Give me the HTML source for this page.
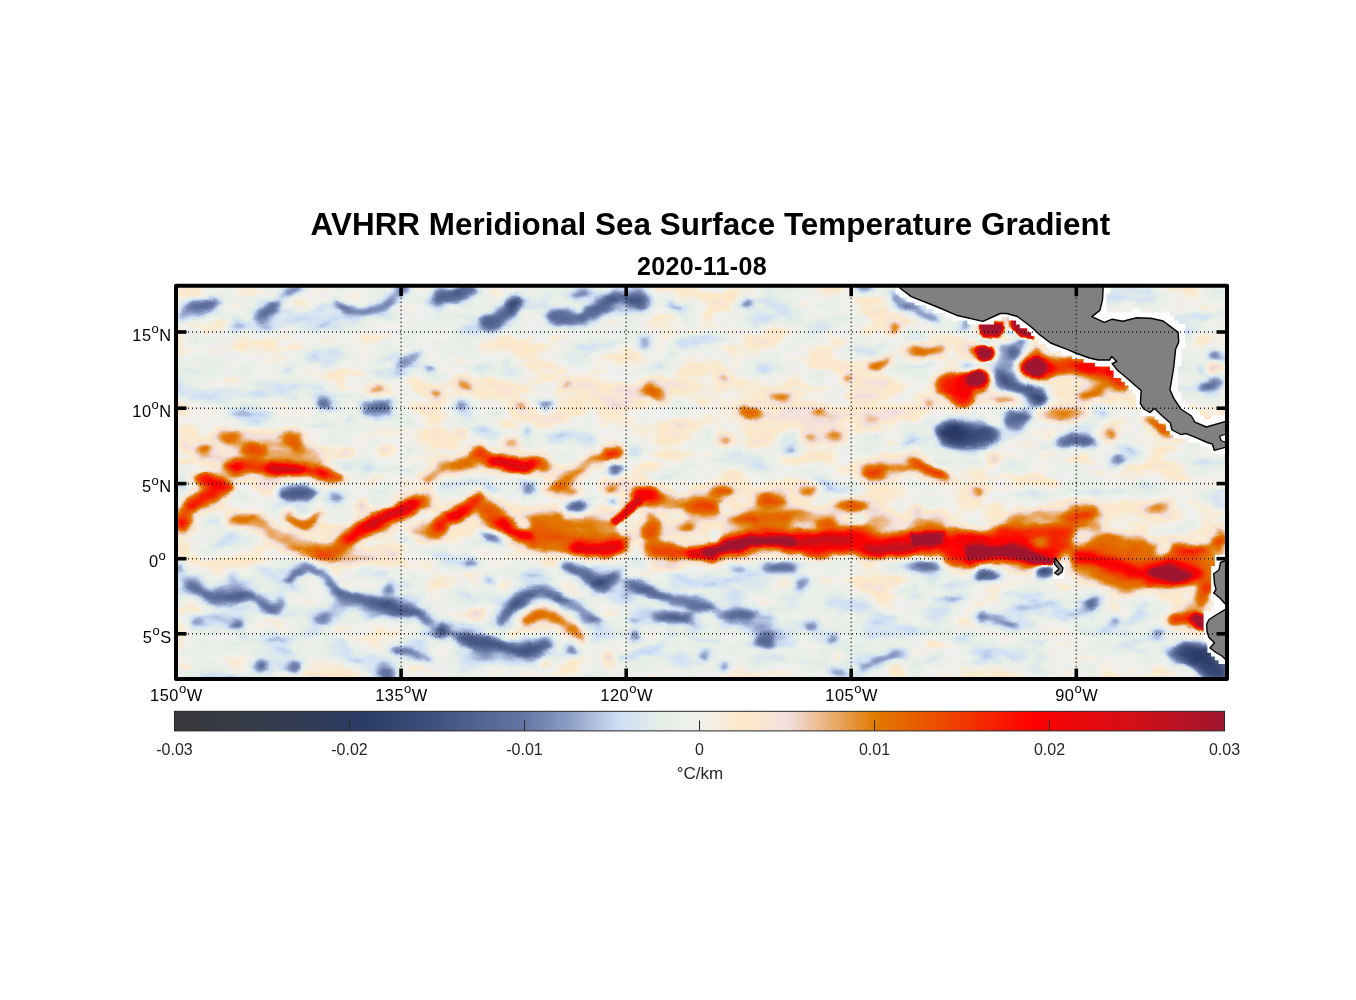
<!DOCTYPE html>
<html><head><meta charset="utf-8"><title>AVHRR Meridional Sea Surface Temperature Gradient</title>
<style>html,body{margin:0;padding:0;background:#fff}body{width:1356px;height:1000px;overflow:hidden;font-family:"Liberation Sans",sans-serif}svg{display:block}text{font-family:"Liberation Sans",sans-serif}</style>
</head><body>
<svg width="1356" height="1000" viewBox="0 0 1356 1000">
<defs>
<filter id="cm" filterUnits="userSpaceOnUse" x="160" y="270" width="1090" height="430" color-interpolation-filters="sRGB"><feTurbulence type="fractalNoise" baseFrequency="0.045 0.06" numOctaves="2" seed="3" result="dn"/><feDisplacementMap in="SourceGraphic" in2="dn" scale="7" xChannelSelector="R" yChannelSelector="G" result="dd"/><feComponentTransfer in="dd">
<feFuncR type="table" tableValues="0.227 0.225 0.223 0.220 0.218 0.216 0.213 0.211 0.209 0.206 0.204 0.201 0.197 0.194 0.191 0.188 0.184 0.181 0.178 0.175 0.171 0.168 0.165 0.176 0.188 0.200 0.212 0.224 0.235 0.247 0.259 0.272 0.285 0.299 0.312 0.325 0.339 0.352 0.365 0.379 0.392 0.424 0.455 0.486 0.518 0.549 0.593 0.637 0.680 0.724 0.768 0.812 0.830 0.848 0.866 0.884 0.902 0.912 0.922 0.931 0.941 0.951 0.962 0.972 0.982 0.992 0.984 0.975 0.966 0.958 0.949 0.943 0.937 0.931 0.925 0.918 0.910 0.902 0.894 0.886 0.878 0.885 0.891 0.897 0.904 0.910 0.916 0.922 0.929 0.935 0.941 0.949 0.956 0.963 0.971 0.978 0.985 0.993 1.000 0.985 0.969 0.954 0.939 0.923 0.908 0.892 0.877 0.862 0.846 0.831 0.816 0.797 0.778 0.759 0.740 0.722 0.703 0.684 0.665 0.646 0.627"/>
<feFuncG type="table" tableValues="0.227 0.228 0.228 0.229 0.229 0.229 0.230 0.230 0.231 0.231 0.231 0.231 0.231 0.231 0.231 0.231 0.231 0.231 0.231 0.231 0.231 0.231 0.231 0.243 0.254 0.265 0.276 0.288 0.299 0.310 0.322 0.336 0.350 0.364 0.378 0.392 0.406 0.420 0.435 0.449 0.463 0.493 0.524 0.555 0.585 0.616 0.659 0.703 0.747 0.791 0.835 0.878 0.890 0.902 0.914 0.925 0.937 0.938 0.939 0.940 0.941 0.936 0.930 0.925 0.919 0.914 0.907 0.900 0.893 0.885 0.878 0.840 0.802 0.764 0.725 0.685 0.644 0.604 0.563 0.523 0.482 0.457 0.431 0.406 0.380 0.355 0.329 0.304 0.278 0.253 0.227 0.199 0.171 0.142 0.114 0.085 0.057 0.028 0.000 0.005 0.010 0.016 0.021 0.026 0.031 0.037 0.042 0.047 0.052 0.058 0.063 0.065 0.067 0.069 0.071 0.073 0.075 0.076 0.078 0.080 0.082"/>
<feFuncB type="table" tableValues="0.235 0.241 0.246 0.252 0.257 0.263 0.268 0.274 0.279 0.285 0.290 0.299 0.308 0.318 0.327 0.336 0.345 0.354 0.363 0.373 0.382 0.391 0.400 0.412 0.424 0.435 0.447 0.459 0.471 0.482 0.494 0.508 0.522 0.536 0.551 0.565 0.579 0.593 0.607 0.621 0.635 0.663 0.690 0.718 0.745 0.773 0.805 0.837 0.869 0.901 0.933 0.965 0.952 0.940 0.927 0.915 0.902 0.910 0.918 0.925 0.933 0.904 0.874 0.844 0.814 0.784 0.803 0.822 0.841 0.860 0.878 0.794 0.710 0.625 0.541 0.451 0.361 0.271 0.180 0.090 0.000 0.000 0.000 0.000 0.000 0.000 0.000 0.000 0.000 0.000 0.000 0.000 0.000 0.000 0.000 0.000 0.000 0.000 0.000 0.008 0.016 0.024 0.031 0.039 0.047 0.055 0.063 0.071 0.078 0.086 0.094 0.104 0.113 0.122 0.132 0.141 0.151 0.160 0.169 0.179 0.188"/>
</feComponentTransfer></filter>
<filter id="bx" filterUnits="userSpaceOnUse" x="100" y="220" width="1200" height="520" color-interpolation-filters="sRGB"><feGaussianBlur stdDeviation="9"/></filter>
<filter id="bh" filterUnits="userSpaceOnUse" x="100" y="220" width="1200" height="520" color-interpolation-filters="sRGB"><feGaussianBlur stdDeviation="7"/></filter>
<filter id="bm" filterUnits="userSpaceOnUse" x="100" y="220" width="1200" height="520" color-interpolation-filters="sRGB"><feGaussianBlur stdDeviation="3.6"/></filter>
<filter id="bs" filterUnits="userSpaceOnUse" x="100" y="220" width="1200" height="520" color-interpolation-filters="sRGB"><feGaussianBlur stdDeviation="1.7"/></filter>
<filter id="nz" filterUnits="userSpaceOnUse" x="160" y="270" width="1090" height="430" color-interpolation-filters="sRGB"><feTurbulence type="fractalNoise" baseFrequency="0.02 0.042" numOctaves="3" seed="7" result="t"/><feColorMatrix in="t" type="matrix" values="0.25 0 0 0 0.368  0.25 0 0 0 0.368  0.25 0 0 0 0.368  0 0 0 0 1"/></filter>
<clipPath id="clip"><rect x="176" y="285.7" width="1051" height="393.3"/></clipPath>
<linearGradient id="cb" x1="0" x2="1" y1="0" y2="0">
<stop offset="0.0000" stop-color="#3a3a3c"/>
<stop offset="0.0083" stop-color="#393a3d"/>
<stop offset="0.0167" stop-color="#393a3f"/>
<stop offset="0.0250" stop-color="#383a40"/>
<stop offset="0.0333" stop-color="#383a42"/>
<stop offset="0.0417" stop-color="#373a43"/>
<stop offset="0.0500" stop-color="#363b44"/>
<stop offset="0.0583" stop-color="#363b46"/>
<stop offset="0.0667" stop-color="#353b47"/>
<stop offset="0.0750" stop-color="#353b49"/>
<stop offset="0.0833" stop-color="#343b4a"/>
<stop offset="0.0917" stop-color="#333b4c"/>
<stop offset="0.1000" stop-color="#323b4f"/>
<stop offset="0.1083" stop-color="#323b51"/>
<stop offset="0.1167" stop-color="#313b53"/>
<stop offset="0.1250" stop-color="#303b56"/>
<stop offset="0.1333" stop-color="#2f3b58"/>
<stop offset="0.1417" stop-color="#2e3b5a"/>
<stop offset="0.1500" stop-color="#2d3b5d"/>
<stop offset="0.1583" stop-color="#2c3b5f"/>
<stop offset="0.1667" stop-color="#2c3b61"/>
<stop offset="0.1750" stop-color="#2b3b64"/>
<stop offset="0.1833" stop-color="#2a3b66"/>
<stop offset="0.1917" stop-color="#2d3e69"/>
<stop offset="0.2000" stop-color="#30416c"/>
<stop offset="0.2083" stop-color="#33446f"/>
<stop offset="0.2167" stop-color="#364772"/>
<stop offset="0.2250" stop-color="#394975"/>
<stop offset="0.2333" stop-color="#3c4c78"/>
<stop offset="0.2417" stop-color="#3f4f7b"/>
<stop offset="0.2500" stop-color="#42527e"/>
<stop offset="0.2583" stop-color="#455682"/>
<stop offset="0.2667" stop-color="#495985"/>
<stop offset="0.2750" stop-color="#4c5d89"/>
<stop offset="0.2833" stop-color="#50608c"/>
<stop offset="0.2917" stop-color="#536490"/>
<stop offset="0.3000" stop-color="#566894"/>
<stop offset="0.3083" stop-color="#5a6b97"/>
<stop offset="0.3167" stop-color="#5d6f9b"/>
<stop offset="0.3250" stop-color="#61729e"/>
<stop offset="0.3333" stop-color="#6476a2"/>
<stop offset="0.3417" stop-color="#6c7ea9"/>
<stop offset="0.3500" stop-color="#7486b0"/>
<stop offset="0.3583" stop-color="#7c8db7"/>
<stop offset="0.3667" stop-color="#8495be"/>
<stop offset="0.3750" stop-color="#8c9dc5"/>
<stop offset="0.3833" stop-color="#97a8cd"/>
<stop offset="0.3917" stop-color="#a2b3d5"/>
<stop offset="0.4000" stop-color="#aebfde"/>
<stop offset="0.4083" stop-color="#b9cae6"/>
<stop offset="0.4167" stop-color="#c4d5ee"/>
<stop offset="0.4250" stop-color="#cfe0f6"/>
<stop offset="0.4333" stop-color="#d4e3f3"/>
<stop offset="0.4417" stop-color="#d8e6f0"/>
<stop offset="0.4500" stop-color="#dde9ec"/>
<stop offset="0.4583" stop-color="#e1ece9"/>
<stop offset="0.4667" stop-color="#e6efe6"/>
<stop offset="0.4750" stop-color="#e8efe8"/>
<stop offset="0.4833" stop-color="#ebf0ea"/>
<stop offset="0.4917" stop-color="#eef0ec"/>
<stop offset="0.5000" stop-color="#f0f0ee"/>
<stop offset="0.5083" stop-color="#f3efe6"/>
<stop offset="0.5167" stop-color="#f5eddf"/>
<stop offset="0.5250" stop-color="#f8ecd7"/>
<stop offset="0.5333" stop-color="#faead0"/>
<stop offset="0.5417" stop-color="#fde9c8"/>
<stop offset="0.5500" stop-color="#fbe7cd"/>
<stop offset="0.5583" stop-color="#f9e5d2"/>
<stop offset="0.5667" stop-color="#f6e4d6"/>
<stop offset="0.5750" stop-color="#f4e2db"/>
<stop offset="0.5833" stop-color="#f2e0e0"/>
<stop offset="0.5917" stop-color="#f0d6cb"/>
<stop offset="0.6000" stop-color="#efccb5"/>
<stop offset="0.6083" stop-color="#eec3a0"/>
<stop offset="0.6167" stop-color="#ecb98a"/>
<stop offset="0.6250" stop-color="#eaaf73"/>
<stop offset="0.6333" stop-color="#e8a45c"/>
<stop offset="0.6417" stop-color="#e69a45"/>
<stop offset="0.6500" stop-color="#e4902e"/>
<stop offset="0.6583" stop-color="#e28517"/>
<stop offset="0.6667" stop-color="#e07b00"/>
<stop offset="0.6750" stop-color="#e27500"/>
<stop offset="0.6833" stop-color="#e36e00"/>
<stop offset="0.6917" stop-color="#e56800"/>
<stop offset="0.7000" stop-color="#e66100"/>
<stop offset="0.7083" stop-color="#e85b00"/>
<stop offset="0.7167" stop-color="#ea5400"/>
<stop offset="0.7250" stop-color="#eb4e00"/>
<stop offset="0.7333" stop-color="#ed4700"/>
<stop offset="0.7417" stop-color="#ee4000"/>
<stop offset="0.7500" stop-color="#f03a00"/>
<stop offset="0.7583" stop-color="#f23300"/>
<stop offset="0.7667" stop-color="#f42b00"/>
<stop offset="0.7750" stop-color="#f62400"/>
<stop offset="0.7833" stop-color="#f81d00"/>
<stop offset="0.7917" stop-color="#f91600"/>
<stop offset="0.8000" stop-color="#fb0e00"/>
<stop offset="0.8083" stop-color="#fd0700"/>
<stop offset="0.8167" stop-color="#ff0000"/>
<stop offset="0.8250" stop-color="#fb0102"/>
<stop offset="0.8333" stop-color="#f70304"/>
<stop offset="0.8417" stop-color="#f30406"/>
<stop offset="0.8500" stop-color="#ef0508"/>
<stop offset="0.8583" stop-color="#eb070a"/>
<stop offset="0.8667" stop-color="#e7080c"/>
<stop offset="0.8750" stop-color="#e4090e"/>
<stop offset="0.8833" stop-color="#e00b10"/>
<stop offset="0.8917" stop-color="#dc0c12"/>
<stop offset="0.9000" stop-color="#d80d14"/>
<stop offset="0.9083" stop-color="#d40f16"/>
<stop offset="0.9167" stop-color="#d01018"/>
<stop offset="0.9250" stop-color="#cb101a"/>
<stop offset="0.9333" stop-color="#c6111d"/>
<stop offset="0.9417" stop-color="#c2111f"/>
<stop offset="0.9500" stop-color="#bd1222"/>
<stop offset="0.9583" stop-color="#b81224"/>
<stop offset="0.9667" stop-color="#b31326"/>
<stop offset="0.9750" stop-color="#ae1429"/>
<stop offset="0.9833" stop-color="#aa142b"/>
<stop offset="0.9917" stop-color="#a5142e"/>
<stop offset="1.0000" stop-color="#a01530"/>
</linearGradient>
</defs>
<rect width="1356" height="1000" fill="#fff"/>
<g clip-path="url(#clip)">
<g filter="url(#cm)">
<rect x="160" y="270" width="1090" height="430" fill="#808080"/>
<rect x="160" y="270" width="1090" height="430" filter="url(#nz)"/>
<g filter="url(#bx)">
<ellipse cx="700" cy="395" rx="270" ry="40" fill="#fff" opacity="0.06"/>
<ellipse cx="560" cy="625" rx="400" ry="45" fill="#000" opacity="0.04"/>
<ellipse cx="300" cy="365" rx="150" ry="34" fill="#000" opacity="0.02"/>
<ellipse cx="1100" cy="625" rx="110" ry="35" fill="#000" opacity="0.03"/>
<ellipse cx="1000" cy="470" rx="200" ry="18" fill="#fff" opacity="0.05"/>
<ellipse cx="800" cy="508" rx="120" ry="14" fill="#fff" opacity="0.07"/>
<ellipse cx="1120" cy="520" rx="70" ry="20" fill="#fff" opacity="0.05"/>
<ellipse cx="560" cy="525" rx="80" ry="14" fill="#fff" opacity="0.05"/>
<ellipse cx="270" cy="452" rx="70" ry="16" fill="#fff" opacity="0.08"/>
</g>
<g filter="url(#bh)" opacity="0.6"><use href="#gmi"/><use href="#gsi"/></g>
<g filter="url(#bm)"><g id="gmi">
<ellipse cx="197" cy="310.5" rx="27" ry="7.5" fill="#000" opacity="0.27" transform="rotate(-24 197 310.5)"/>
<ellipse cx="268" cy="311" rx="18" ry="5.5" fill="#000" opacity="0.32" transform="rotate(-34 268 311)"/>
<ellipse cx="292" cy="291" rx="14" ry="5" fill="#000" opacity="0.31" transform="rotate(-15 292 291)"/>
<ellipse cx="236" cy="324" rx="7" ry="4" fill="#000" opacity="0.23"/>
<polyline points="336.0,303.0 350.0,310.0 364.0,312.0 382.0,305.0 392.0,299.0" fill="none" stroke="#000" stroke-width="4.5" stroke-linecap="round" stroke-linejoin="round" opacity="0.50"/>
<ellipse cx="403" cy="291" rx="9" ry="5.5" fill="#000" opacity="0.34" transform="rotate(-15 403 291)"/>
<polyline points="400.0,363.0 420.0,353.0" fill="none" stroke="#000" stroke-width="3.5" stroke-linecap="round" stroke-linejoin="round" opacity="0.53"/>
<ellipse cx="430" cy="370" rx="5" ry="3" fill="#000" opacity="0.47"/>
<polygon points="361.0,402.0 392.0,402.0 392.0,416.0 361.0,416.0" fill="#000" opacity="0.29"/>
<ellipse cx="324" cy="404" rx="7" ry="3.5" fill="#000" opacity="0.43"/>
<ellipse cx="250" cy="414" rx="26" ry="4" fill="#000" opacity="0.24" transform="rotate(8 250 414)"/>
<ellipse cx="350" cy="419" rx="6" ry="3" fill="#000" opacity="0.36"/>
<ellipse cx="290" cy="370" rx="9" ry="5" fill="#000" opacity="0.10"/>
<ellipse cx="332" cy="354" rx="7" ry="4" fill="#000" opacity="0.10"/>
<ellipse cx="438" cy="296" rx="6" ry="8" fill="#000" opacity="0.33"/>
<ellipse cx="196" cy="292" rx="14" ry="5" fill="#fff" opacity="0.08"/>
<ellipse cx="236" cy="360" rx="16" ry="6" fill="#fff" opacity="0.06"/>
<polyline points="328.0,373.0 350.0,374.0 372.0,375.0" fill="none" stroke="#fff" stroke-width="6" stroke-linecap="round" stroke-linejoin="round" opacity="0.12"/>
<ellipse cx="360" cy="373" rx="7" ry="3" fill="#fff" opacity="0.24"/>
<ellipse cx="377" cy="389" rx="12" ry="3.4" fill="#fff" opacity="0.40"/>
<ellipse cx="436" cy="394" rx="5" ry="4" fill="#fff" opacity="0.42"/>
<ellipse cx="384" cy="450" rx="8" ry="3" fill="#fff" opacity="0.34"/>
<ellipse cx="346" cy="454" rx="9" ry="4" fill="#fff" opacity="0.21"/>
<polygon points="182.0,446.0 226.0,430.0 262.0,432.0 300.0,430.0 312.0,444.0 346.0,482.0 300.0,476.0 230.0,474.0 200.0,456.0" fill="#fff" opacity="0.09"/>
<ellipse cx="184" cy="446" rx="8" ry="3.5" fill="#fff" opacity="0.30"/>
<ellipse cx="204" cy="449" rx="8" ry="5" fill="#fff" opacity="0.29"/>
<ellipse cx="228" cy="436" rx="12" ry="6" fill="#fff" opacity="0.22"/>
<ellipse cx="254" cy="450" rx="14" ry="7" fill="#fff" opacity="0.25"/>
<ellipse cx="292" cy="438" rx="12" ry="7" fill="#fff" opacity="0.23"/>
<ellipse cx="300" cy="448" rx="8" ry="5" fill="#fff" opacity="0.24"/>
<polyline points="228.0,468.0 250.0,466.0 270.0,468.0 290.0,470.0 318.0,472.0 340.0,480.0" fill="none" stroke="#fff" stroke-width="9" stroke-linecap="round" stroke-linejoin="round" opacity="0.46"/>
<polyline points="272.0,469.0 286.0,470.0 300.0,470.0" fill="none" stroke="#fff" stroke-width="7" stroke-linecap="round" stroke-linejoin="round" opacity="0.97"/>
<ellipse cx="236" cy="468" rx="8" ry="5" fill="#fff" opacity="0.49"/>
<ellipse cx="322" cy="473" rx="8" ry="4" fill="#fff" opacity="0.50"/>
<ellipse cx="208" cy="481" rx="16" ry="6" fill="#fff" opacity="0.33"/>
<ellipse cx="430" cy="476" rx="10" ry="7" fill="#fff" opacity="0.27"/>
<ellipse cx="460" cy="294" rx="21" ry="6" fill="#000" opacity="0.32" transform="rotate(-14 460 294)"/>
<ellipse cx="502" cy="315" rx="25" ry="8.5" fill="#000" opacity="0.31" transform="rotate(-30 502 315)"/>
<ellipse cx="515" cy="303" rx="8" ry="6" fill="#000" opacity="0.26"/>
<ellipse cx="566" cy="318" rx="21" ry="9" fill="#000" opacity="0.31" transform="rotate(5 566 318)"/>
<ellipse cx="598" cy="308" rx="19" ry="9" fill="#000" opacity="0.31" transform="rotate(-35 598 308)"/>
<ellipse cx="617" cy="296" rx="8" ry="5" fill="#000" opacity="0.32" transform="rotate(-30 617 296)"/>
<ellipse cx="582" cy="295" rx="12" ry="4" fill="#000" opacity="0.32" transform="rotate(-15 582 295)"/>
<ellipse cx="636" cy="301" rx="14" ry="8.5" fill="#000" opacity="0.30" transform="rotate(28 636 301)"/>
<polyline points="667.0,302.0 683.0,311.0" fill="none" stroke="#000" stroke-width="3.5" stroke-linecap="round" stroke-linejoin="round" opacity="0.33"/>
<ellipse cx="645" cy="345" rx="7" ry="4" fill="#000" opacity="0.32"/>
<ellipse cx="547" cy="405" rx="10" ry="3.5" fill="#000" opacity="0.41"/>
<ellipse cx="459" cy="404" rx="7" ry="4" fill="#000" opacity="0.32"/>
<ellipse cx="527" cy="430" rx="4" ry="3" fill="#000" opacity="0.50"/>
<ellipse cx="615" cy="469" rx="9" ry="5.5" fill="#000" opacity="0.37" transform="rotate(-20 615 469)"/>
<ellipse cx="497" cy="414" rx="10" ry="4" fill="#000" opacity="0.10"/>
<ellipse cx="591" cy="437" rx="10" ry="3" fill="#000" opacity="0.13"/>
<ellipse cx="467" cy="318" rx="8" ry="4" fill="#000" opacity="0.08"/>
<ellipse cx="477" cy="372" rx="10" ry="4" fill="#000" opacity="0.08"/>
<ellipse cx="465" cy="385" rx="9" ry="4" fill="#fff" opacity="0.35" transform="rotate(25 465 385)"/>
<ellipse cx="565" cy="385" rx="6" ry="3.5" fill="#fff" opacity="0.32"/>
<ellipse cx="521" cy="404" rx="6" ry="3" fill="#fff" opacity="0.40"/>
<polyline points="645.0,386.0 654.0,393.0 664.0,400.0" fill="none" stroke="#fff" stroke-width="6" stroke-linecap="round" stroke-linejoin="round" opacity="0.41"/>
<ellipse cx="461" cy="434" rx="7" ry="4" fill="#fff" opacity="0.28"/>
<ellipse cx="511" cy="442" rx="11" ry="4" fill="#fff" opacity="0.40"/>
<polyline points="441.0,466.0 455.0,466.0 470.0,462.0 480.0,452.0" fill="none" stroke="#fff" stroke-width="12" stroke-linecap="round" stroke-linejoin="round" opacity="0.29"/>
<ellipse cx="478" cy="452" rx="8" ry="6" fill="#fff" opacity="0.27"/>
<polyline points="487.0,460.0 500.0,462.0 512.0,466.0 528.0,466.0 538.0,462.0" fill="none" stroke="#fff" stroke-width="9" stroke-linecap="round" stroke-linejoin="round" opacity="0.50"/>
<polyline points="491.0,461.0 505.0,464.0 520.0,466.0 530.0,465.0" fill="none" stroke="#fff" stroke-width="6" stroke-linecap="round" stroke-linejoin="round" opacity="1.00"/>
<ellipse cx="545" cy="466" rx="8" ry="9" fill="#fff" opacity="0.25"/>
<ellipse cx="615" cy="452" rx="10" ry="5.5" fill="#fff" opacity="0.56"/>
<polyline points="606.0,455.0 592.0,462.0 582.0,470.0 570.0,478.0 560.0,484.0" fill="none" stroke="#fff" stroke-width="11" stroke-linecap="round" stroke-linejoin="round" opacity="0.27"/>
<ellipse cx="590" cy="395" rx="60" ry="14" fill="#fff" opacity="0.04"/>
<ellipse cx="746" cy="304" rx="6" ry="3.5" fill="#000" opacity="0.41"/>
<ellipse cx="726" cy="360" rx="9" ry="4" fill="#000" opacity="0.10"/>
<ellipse cx="790" cy="451" rx="5" ry="2" fill="#000" opacity="0.50"/>
<polyline points="892.0,294.0 903.0,303.0 918.0,312.0 938.0,320.0" fill="none" stroke="#000" stroke-width="3.5" stroke-linecap="round" stroke-linejoin="round" opacity="0.56"/>
<ellipse cx="966" cy="326" rx="6" ry="3" fill="#000" opacity="0.45"/>
<ellipse cx="864" cy="288" rx="8" ry="3" fill="#000" opacity="0.41"/>
<ellipse cx="928" cy="422" rx="8" ry="4" fill="#000" opacity="0.12"/>
<ellipse cx="896" cy="329" rx="8" ry="3.5" fill="#fff" opacity="0.45" transform="rotate(-20 896 329)"/>
<polyline points="870.0,366.0 880.0,363.0 890.0,360.0" fill="none" stroke="#fff" stroke-width="6" stroke-linecap="round" stroke-linejoin="round" opacity="0.51"/>
<polyline points="912.0,349.0 928.0,352.0 942.0,351.0" fill="none" stroke="#fff" stroke-width="9" stroke-linecap="round" stroke-linejoin="round" opacity="0.35"/>
<ellipse cx="848" cy="379" rx="4" ry="4" fill="#fff" opacity="0.43"/>
<ellipse cx="724" cy="377" rx="8" ry="3" fill="#fff" opacity="0.34"/>
<ellipse cx="780" cy="396" rx="13" ry="3.5" fill="#fff" opacity="0.36"/>
<polyline points="742.0,409.0 752.0,413.0 760.0,416.0" fill="none" stroke="#fff" stroke-width="6" stroke-linecap="round" stroke-linejoin="round" opacity="0.44"/>
<ellipse cx="820" cy="411" rx="8" ry="3" fill="#fff" opacity="0.34"/>
<ellipse cx="724" cy="439" rx="9" ry="4.5" fill="#fff" opacity="0.34"/>
<ellipse cx="810" cy="438" rx="8" ry="5.5" fill="#fff" opacity="0.30"/>
<ellipse cx="834" cy="438" rx="11" ry="3" fill="#fff" opacity="0.44"/>
<ellipse cx="928" cy="404" rx="6" ry="3" fill="#fff" opacity="0.36"/>
<ellipse cx="872" cy="422" rx="10" ry="4" fill="#fff" opacity="0.19"/>
<ellipse cx="892" cy="442" rx="9" ry="3" fill="#fff" opacity="0.26"/>
<ellipse cx="872" cy="476" rx="13" ry="5" fill="#fff" opacity="0.29"/>
<polyline points="912.0,458.0 922.0,464.0 934.0,472.0 946.0,478.0" fill="none" stroke="#fff" stroke-width="7" stroke-linecap="round" stroke-linejoin="round" opacity="0.45"/>
<ellipse cx="790" cy="420" rx="80" ry="20" fill="#fff" opacity="0.03"/>
<ellipse cx="984" cy="353" rx="12" ry="11" fill="#fff" opacity="0.33"/>
<ellipse cx="976" cy="380" rx="18" ry="11" fill="#fff" opacity="0.32"/>
<ellipse cx="1035" cy="368" rx="18" ry="14" fill="#fff" opacity="0.32"/>
<polygon points="932.0,380.0 950.0,374.0 966.0,372.0 972.0,388.0 972.0,398.0 968.0,408.0 958.0,408.0 942.0,394.0" fill="#fff" opacity="0.43"/>
<polyline points="1048.0,366.0 1070.0,365.0 1092.0,367.0 1110.0,370.0" fill="none" stroke="#fff" stroke-width="12" stroke-linecap="round" stroke-linejoin="round" opacity="0.29"/>
<polygon points="1047.0,360.0 1075.0,358.0 1110.0,364.0 1130.0,386.0 1120.0,394.0 1095.0,384.0 1070.0,376.0 1047.0,378.0" fill="#fff" opacity="0.22"/>
<ellipse cx="1088" cy="366" rx="13" ry="5" fill="#fff" opacity="0.31"/>
<polyline points="1110.0,372.0 1118.0,380.0 1126.0,388.0" fill="none" stroke="#fff" stroke-width="8" stroke-linecap="round" stroke-linejoin="round" opacity="0.35"/>
<ellipse cx="1092" cy="393" rx="16" ry="6" fill="#fff" opacity="0.29" transform="rotate(-15 1092 393)"/>
<ellipse cx="1063" cy="414" rx="27" ry="8" fill="#fff" opacity="0.28"/>
<ellipse cx="1111" cy="433" rx="6" ry="5" fill="#fff" opacity="0.40"/>
<polyline points="1147.0,420.0 1158.0,425.0 1168.0,431.0" fill="none" stroke="#fff" stroke-width="8" stroke-linecap="round" stroke-linejoin="round" opacity="0.44"/>
<ellipse cx="1007" cy="341" rx="3.5" ry="3" fill="#fff" opacity="0.53"/>
<ellipse cx="1036" cy="349" rx="4" ry="3" fill="#fff" opacity="0.53"/>
<ellipse cx="993" cy="460" rx="7" ry="4" fill="#fff" opacity="0.28"/>
<polyline points="995.0,401.0 1008.0,400.0 1019.0,401.0" fill="none" stroke="#fff" stroke-width="4" stroke-linecap="round" stroke-linejoin="round" opacity="0.51"/>
<ellipse cx="1011" cy="331" rx="4" ry="5" fill="#000" opacity="0.57"/>
<ellipse cx="986" cy="341" rx="8" ry="2.5" fill="#000" opacity="0.58"/>
<ellipse cx="1023" cy="342" rx="7" ry="2.5" fill="#000" opacity="0.57"/>
<polyline points="962.0,366.0 976.0,366.0 990.0,364.0" fill="none" stroke="#000" stroke-width="3.5" stroke-linecap="round" stroke-linejoin="round" opacity="0.67"/>
<ellipse cx="1006" cy="362" rx="14" ry="20" fill="#000" opacity="0.17"/>
<ellipse cx="1016" cy="353" rx="6" ry="5" fill="#000" opacity="0.26"/>
<ellipse cx="999" cy="377" rx="6" ry="5" fill="#000" opacity="0.31"/>
<polyline points="1003.0,384.0 1018.0,388.0 1032.0,394.0 1042.0,400.0" fill="none" stroke="#000" stroke-width="10.5" stroke-linecap="round" stroke-linejoin="round" opacity="0.37"/>
<ellipse cx="1040" cy="399" rx="8" ry="7" fill="#000" opacity="0.25"/>
<ellipse cx="968" cy="436" rx="32" ry="13" fill="#000" opacity="0.39"/>
<ellipse cx="1018" cy="420" rx="14" ry="8" fill="#000" opacity="0.30"/>
<ellipse cx="950" cy="430" rx="14" ry="8" fill="#000" opacity="0.24"/>
<ellipse cx="1077" cy="442" rx="21" ry="6" fill="#000" opacity="0.37"/>
<ellipse cx="1117" cy="461" rx="7" ry="3" fill="#000" opacity="0.39" transform="rotate(-25 1117 461)"/>
<ellipse cx="1103" cy="414" rx="8" ry="4" fill="#000" opacity="0.12"/>
<ellipse cx="1215" cy="356" rx="8" ry="3.5" fill="#000" opacity="0.36"/>
<ellipse cx="1216" cy="367.5" rx="10" ry="2.2" fill="#fff" opacity="0.63"/>
<ellipse cx="1212" cy="385" rx="13" ry="5" fill="#000" opacity="0.31" transform="rotate(-10 1212 385)"/>
<ellipse cx="1186" cy="344" rx="6" ry="5" fill="#000" opacity="0.09"/>
<ellipse cx="1191" cy="393" rx="6" ry="5" fill="#000" opacity="0.09"/>
<polyline points="192.0,503.0 208.0,496.0 228.0,487.0" fill="none" stroke="#fff" stroke-width="13" stroke-linecap="round" stroke-linejoin="round" opacity="0.48"/>
<ellipse cx="210" cy="480" rx="14" ry="6" fill="#fff" opacity="0.32"/>
<ellipse cx="182" cy="523" rx="7" ry="9" fill="#fff" opacity="0.50"/>
<ellipse cx="186" cy="508" rx="8" ry="6" fill="#fff" opacity="0.33"/>
<polyline points="234.0,520.0 256.0,523.0 274.0,534.0 298.0,546.0 322.0,553.0 342.0,545.0 362.0,529.0 390.0,516.0 410.0,507.0 428.0,497.0" fill="none" stroke="#fff" stroke-width="15" stroke-linecap="round" stroke-linejoin="round" opacity="0.25"/>
<polyline points="350.0,538.0 370.0,524.0 392.0,513.0 416.0,504.0" fill="none" stroke="#fff" stroke-width="11" stroke-linecap="round" stroke-linejoin="round" opacity="0.41"/>
<polyline points="366.0,528.0 390.0,515.0 410.0,507.0" fill="none" stroke="#fff" stroke-width="5" stroke-linecap="round" stroke-linejoin="round" opacity="0.98"/>
<ellipse cx="345" cy="557" rx="34" ry="7" fill="#fff" opacity="0.23"/>
<polyline points="286.0,516.0 296.0,523.0 305.0,526.0 312.0,521.0 318.0,513.0" fill="none" stroke="#fff" stroke-width="6" stroke-linecap="round" stroke-linejoin="round" opacity="0.51"/>
<ellipse cx="362" cy="504" rx="4" ry="5" fill="#fff" opacity="0.32"/>
<ellipse cx="428" cy="530" rx="20" ry="10" fill="#fff" opacity="0.24"/>
<ellipse cx="456" cy="516" rx="8" ry="5" fill="#fff" opacity="0.53"/>
<ellipse cx="396" cy="636" rx="8" ry="3" fill="#fff" opacity="0.12"/>
<ellipse cx="390" cy="548" rx="16" ry="7" fill="#fff" opacity="0.09"/>
<ellipse cx="298" cy="493" rx="21" ry="8" fill="#000" opacity="0.36"/>
<ellipse cx="335" cy="498" rx="10" ry="4" fill="#000" opacity="0.33"/>
<polyline points="290.0,579.0 300.0,571.0 310.0,567.0 322.0,574.0 332.0,586.0 342.0,594.0 360.0,598.0 380.0,604.0 400.0,611.0 416.0,612.0 430.0,620.0" fill="none" stroke="#000" stroke-width="8.5" stroke-linecap="round" stroke-linejoin="round" opacity="0.32"/>
<ellipse cx="390" cy="590" rx="7" ry="5" fill="#000" opacity="0.33"/>
<polyline points="190.0,586.0 210.0,596.0 230.0,598.0 250.0,594.0 264.0,602.0 272.0,610.0 282.0,601.0" fill="none" stroke="#000" stroke-width="7.5" stroke-linecap="round" stroke-linejoin="round" opacity="0.35"/>
<ellipse cx="196" cy="622" rx="8" ry="3" fill="#000" opacity="0.41"/>
<ellipse cx="238" cy="624" rx="6" ry="4" fill="#000" opacity="0.41" transform="rotate(-30 238 624)"/>
<ellipse cx="322" cy="620" rx="12" ry="3" fill="#000" opacity="0.36"/>
<ellipse cx="180" cy="566" rx="4" ry="6" fill="#000" opacity="0.35"/>
<ellipse cx="232" cy="576" rx="6" ry="4" fill="#000" opacity="0.24"/>
<polyline points="392.0,649.0 412.0,655.0 432.0,660.0" fill="none" stroke="#000" stroke-width="3.5" stroke-linecap="round" stroke-linejoin="round" opacity="0.56"/>
<ellipse cx="260" cy="664" rx="7" ry="4" fill="#000" opacity="0.34" transform="rotate(35 260 664)"/>
<ellipse cx="294" cy="668" rx="7" ry="4" fill="#000" opacity="0.39" transform="rotate(35 294 668)"/>
<ellipse cx="386" cy="673" rx="10" ry="3" fill="#000" opacity="0.40"/>
<ellipse cx="440" cy="632" rx="5" ry="6" fill="#000" opacity="0.31"/>
<polyline points="438.0,524.0 453.0,516.0 465.0,509.0" fill="none" stroke="#fff" stroke-width="13" stroke-linecap="round" stroke-linejoin="round" opacity="0.43"/>
<polyline points="465.0,509.0 472.0,502.0 477.0,496.0" fill="none" stroke="#fff" stroke-width="9" stroke-linecap="round" stroke-linejoin="round" opacity="0.33"/>
<polyline points="477.0,500.0 497.0,518.0 517.0,534.0 545.0,542.0 581.0,546.0 611.0,548.0 623.0,543.0" fill="none" stroke="#fff" stroke-width="19" stroke-linecap="round" stroke-linejoin="round" opacity="0.30"/>
<polyline points="500.0,522.0 514.0,532.0 530.0,538.0" fill="none" stroke="#fff" stroke-width="7" stroke-linecap="round" stroke-linejoin="round" opacity="0.67"/>
<polyline points="575.0,548.0 600.0,549.0 620.0,546.0" fill="none" stroke="#fff" stroke-width="8" stroke-linecap="round" stroke-linejoin="round" opacity="0.71"/>
<polygon points="511.0,514.0 560.0,512.0 590.0,518.0 624.0,524.0 624.0,540.0 540.0,536.0" fill="#fff" opacity="0.24"/>
<ellipse cx="521" cy="524" rx="6" ry="4" fill="#000" opacity="0.30"/>
<ellipse cx="553" cy="488" rx="12" ry="5" fill="#fff" opacity="0.28"/>
<ellipse cx="571" cy="492" rx="8" ry="5" fill="#fff" opacity="0.30"/>
<ellipse cx="611" cy="487" rx="10" ry="4" fill="#fff" opacity="0.33"/>
<ellipse cx="646" cy="494" rx="15" ry="6" fill="#fff" opacity="0.52"/>
<polyline points="641.0,497.0 670.0,500.0 712.0,505.0" fill="none" stroke="#fff" stroke-width="14" stroke-linecap="round" stroke-linejoin="round" opacity="0.27"/>
<ellipse cx="651" cy="528" rx="10" ry="15" fill="#fff" opacity="0.27"/>
<polyline points="649.0,550.0 671.0,552.0 691.0,554.0 712.0,553.0" fill="none" stroke="#fff" stroke-width="13" stroke-linecap="round" stroke-linejoin="round" opacity="0.39"/>
<polyline points="690.0,555.0 712.0,555.0" fill="none" stroke="#fff" stroke-width="6" stroke-linecap="round" stroke-linejoin="round" opacity="1.00"/>
<ellipse cx="665" cy="566" rx="16" ry="6" fill="#fff" opacity="0.22"/>
<ellipse cx="687" cy="526" rx="8" ry="5" fill="#fff" opacity="0.30"/>
<ellipse cx="621" cy="529" rx="3.5" ry="3.5" fill="#000" opacity="0.58"/>
<polyline points="523.0,622.0 541.0,614.0 557.0,618.0 571.0,628.0 581.0,636.0" fill="none" stroke="#fff" stroke-width="12" stroke-linecap="round" stroke-linejoin="round" opacity="0.33"/>
<ellipse cx="477" cy="615" rx="8" ry="4" fill="#fff" opacity="0.27"/>
<ellipse cx="609" cy="660" rx="7" ry="4" fill="#fff" opacity="0.34"/>
<ellipse cx="545" cy="663" rx="6" ry="3" fill="#fff" opacity="0.29"/>
<ellipse cx="513" cy="635" rx="4" ry="2.5" fill="#fff" opacity="0.36"/>
<ellipse cx="576" cy="508" rx="13" ry="6.5" fill="#000" opacity="0.39" transform="rotate(-15 576 508)"/>
<ellipse cx="613" cy="502" rx="4" ry="4" fill="#000" opacity="0.51"/>
<polyline points="479.0,532.0 487.0,536.0 497.0,542.0" fill="none" stroke="#000" stroke-width="3" stroke-linecap="round" stroke-linejoin="round" opacity="0.56"/>
<ellipse cx="529" cy="489" rx="7" ry="3" fill="#000" opacity="0.42"/>
<polyline points="565.0,566.0 580.0,572.0 595.0,582.0 606.0,580.0 617.0,574.0" fill="none" stroke="#000" stroke-width="8.5" stroke-linecap="round" stroke-linejoin="round" opacity="0.38"/>
<ellipse cx="599" cy="586" rx="8" ry="5" fill="#000" opacity="0.29"/>
<polyline points="501.0,620.0 515.0,604.0 529.0,592.0 545.0,590.0 561.0,598.0" fill="none" stroke="#000" stroke-width="6.5" stroke-linecap="round" stroke-linejoin="round" opacity="0.38"/>
<polyline points="561.0,598.0 577.0,606.0 601.0,624.0" fill="none" stroke="#000" stroke-width="4.5" stroke-linecap="round" stroke-linejoin="round" opacity="0.37"/>
<ellipse cx="489" cy="580" rx="7" ry="4" fill="#000" opacity="0.34"/>
<ellipse cx="473" cy="564" rx="8" ry="3" fill="#000" opacity="0.27"/>
<polyline points="459.0,640.0 481.0,642.0 507.0,648.0 531.0,650.0 549.0,644.0" fill="none" stroke="#000" stroke-width="7.5" stroke-linecap="round" stroke-linejoin="round" opacity="0.43"/>
<ellipse cx="571" cy="650" rx="4" ry="4" fill="#000" opacity="0.41"/>
<ellipse cx="445" cy="628" rx="4" ry="4" fill="#000" opacity="0.43"/>
<polyline points="629.0,582.0 641.0,588.0 661.0,596.0 681.0,600.0 712.0,608.0" fill="none" stroke="#000" stroke-width="6.5" stroke-linecap="round" stroke-linejoin="round" opacity="0.38"/>
<ellipse cx="674" cy="618" rx="22" ry="4.5" fill="#000" opacity="0.35"/>
<ellipse cx="635" cy="636" rx="5" ry="3" fill="#000" opacity="0.55"/>
<ellipse cx="705" cy="654" rx="5" ry="4" fill="#000" opacity="0.32"/>
<polygon points="708.0,542.0 732.0,534.0 762.0,530.0 802.0,531.0 852.0,529.0 872.0,532.0 892.0,536.0 912.0,532.0 942.0,531.0 985.0,538.0 985.0,563.0 972.0,566.0 946.0,564.0 942.0,554.0 912.0,555.0 872.0,558.0 852.0,553.0 816.0,558.0 792.0,552.0 768.0,546.0 742.0,553.0 708.0,561.0" fill="#fff" opacity="0.46"/>
<polyline points="790.0,541.0 810.0,541.0 850.0,540.0" fill="none" stroke="#fff" stroke-width="8" stroke-linecap="round" stroke-linejoin="round" opacity="0.79"/>
<polyline points="866.0,549.0 890.0,549.0 912.0,548.0" fill="none" stroke="#fff" stroke-width="7" stroke-linecap="round" stroke-linejoin="round" opacity="1.00"/>
<ellipse cx="722" cy="492" rx="12" ry="6" fill="#fff" opacity="0.32"/>
<ellipse cx="770" cy="500" rx="16" ry="6" fill="#fff" opacity="0.29"/>
<ellipse cx="808" cy="490" rx="11" ry="5" fill="#fff" opacity="0.35"/>
<ellipse cx="852" cy="505" rx="18" ry="4.5" fill="#fff" opacity="0.33"/>
<ellipse cx="828" cy="523" rx="11" ry="5" fill="#fff" opacity="0.35"/>
<ellipse cx="762" cy="520" rx="30" ry="9" fill="#fff" opacity="0.18"/>
<ellipse cx="724" cy="508" rx="6" ry="4" fill="#000" opacity="0.24"/>
<ellipse cx="916" cy="510" rx="8" ry="5" fill="#fff" opacity="0.24"/>
<ellipse cx="978" cy="492" rx="6" ry="5" fill="#fff" opacity="0.33"/>
<ellipse cx="968" cy="536" rx="16" ry="8" fill="#fff" opacity="0.27"/>
<ellipse cx="860" cy="517" rx="6" ry="2.2" fill="#000" opacity="0.53"/>
<ellipse cx="716" cy="536" rx="5" ry="3" fill="#000" opacity="0.47"/>
<ellipse cx="779" cy="568" rx="17" ry="4" fill="#000" opacity="0.28"/>
<ellipse cx="738" cy="568" rx="8" ry="3" fill="#000" opacity="0.34"/>
<ellipse cx="802" cy="584" rx="10" ry="6" fill="#000" opacity="0.30" transform="rotate(-25 802 584)"/>
<ellipse cx="736" cy="614" rx="22" ry="5.5" fill="#000" opacity="0.31"/>
<ellipse cx="764" cy="642" rx="11" ry="4.5" fill="#000" opacity="0.38"/>
<ellipse cx="812" cy="626" rx="7" ry="3" fill="#000" opacity="0.36"/>
<ellipse cx="832" cy="638" rx="5" ry="4" fill="#000" opacity="0.33"/>
<ellipse cx="924" cy="567" rx="17" ry="5" fill="#000" opacity="0.29"/>
<ellipse cx="980" cy="576" rx="5" ry="5" fill="#000" opacity="0.33"/>
<ellipse cx="948" cy="600" rx="20" ry="3.5" fill="#000" opacity="0.23"/>
<ellipse cx="980" cy="618" rx="5" ry="5" fill="#000" opacity="0.39"/>
<ellipse cx="840" cy="673" rx="10" ry="4" fill="#000" opacity="0.33"/>
<polyline points="856.0,672.0 874.0,663.0 892.0,656.0 908.0,654.0" fill="none" stroke="#000" stroke-width="3.5" stroke-linecap="round" stroke-linejoin="round" opacity="0.43"/>
<ellipse cx="724" cy="668" rx="7" ry="3" fill="#000" opacity="0.42" transform="rotate(-30 724 668)"/>
<ellipse cx="838" cy="658" rx="6" ry="3" fill="#fff" opacity="0.29"/>
<ellipse cx="896" cy="671" rx="7" ry="3" fill="#fff" opacity="0.28"/>
<polygon points="980.0,534.0 1000.0,526.0 1040.0,524.0 1072.0,528.0 1075.0,544.0 1060.0,556.0 1053.0,566.0 1020.0,564.0 980.0,564.0" fill="#fff" opacity="0.43"/>
<polyline points="1010.0,520.0 1040.0,516.0 1070.0,518.0 1090.0,514.0" fill="none" stroke="#fff" stroke-width="8" stroke-linecap="round" stroke-linejoin="round" opacity="0.29"/>
<ellipse cx="1040" cy="543" rx="8" ry="1.5" fill="#000" opacity="0.54"/>
<ellipse cx="1083" cy="518" rx="20" ry="17" fill="#fff" opacity="0.12"/>
<polygon points="1067.0,550.0 1095.0,534.0 1123.0,534.0 1143.0,538.0 1163.0,544.0 1183.0,546.0 1203.0,544.0 1225.0,534.0 1225.0,560.0 1213.0,592.0 1203.0,584.0 1183.0,588.0 1153.0,588.0 1127.0,596.0 1103.0,586.0 1073.0,576.0" fill="#fff" opacity="0.27"/>
<polyline points="1079.0,556.0 1096.0,558.0 1113.0,564.0 1135.0,572.0" fill="none" stroke="#fff" stroke-width="10" stroke-linecap="round" stroke-linejoin="round" opacity="0.47"/>
<ellipse cx="1170" cy="574" rx="32" ry="12" fill="#fff" opacity="0.40"/>
<ellipse cx="1163" cy="550" rx="7" ry="3" fill="#000" opacity="0.42" transform="rotate(-30 1163 550)"/>
<ellipse cx="1159" cy="508" rx="15" ry="3.5" fill="#fff" opacity="0.28" transform="rotate(-15 1159 508)"/>
<ellipse cx="1221" cy="538" rx="6" ry="10" fill="#fff" opacity="0.26"/>
<polyline points="1174.0,620.0 1186.0,616.0 1198.0,620.0" fill="none" stroke="#fff" stroke-width="12" stroke-linecap="round" stroke-linejoin="round" opacity="0.48"/>
<ellipse cx="1203" cy="596" rx="9" ry="12" fill="#fff" opacity="0.30"/>
<ellipse cx="1208" cy="587" rx="5" ry="5" fill="#fff" opacity="0.41"/>
<ellipse cx="1190" cy="550" rx="19" ry="5" fill="#fff" opacity="0.31"/>
<ellipse cx="990" cy="574" rx="13" ry="5" fill="#000" opacity="0.38"/>
<ellipse cx="1044" cy="571" rx="10" ry="6" fill="#000" opacity="0.55"/>
<ellipse cx="1093" cy="603" rx="10" ry="4.5" fill="#000" opacity="0.35" transform="rotate(-20 1093 603)"/>
<ellipse cx="1115" cy="621" rx="5" ry="3" fill="#000" opacity="0.44"/>
<ellipse cx="1157" cy="632" rx="4" ry="3" fill="#000" opacity="0.47"/>
<ellipse cx="1139" cy="612" rx="8" ry="2.5" fill="#000" opacity="0.19" transform="rotate(-30 1139 612)"/>
<polyline points="983.0,616.0 1000.0,621.0 1015.0,628.0" fill="none" stroke="#000" stroke-width="4.5" stroke-linecap="round" stroke-linejoin="round" opacity="0.37"/>
<polygon points="1170.0,653.0 1184.0,644.0 1200.0,643.0 1211.0,650.0 1217.0,661.0 1228.0,663.0 1228.0,679.0 1203.0,678.0 1194.0,666.0 1180.0,660.0" fill="#000" opacity="0.43"/>
<ellipse cx="1009" cy="510" rx="9" ry="4" fill="#000" opacity="0.10"/>
<polygon points="640.0,506.0 700.0,500.0 760.0,504.0 820.0,500.0 880.0,506.0 940.0,512.0 960.0,524.0 960.0,534.0 700.0,536.0 640.0,540.0" fill="#fff" opacity="0.06"/>
<ellipse cx="700" cy="512" rx="20" ry="6" fill="#fff" opacity="0.16"/>
<ellipse cx="745" cy="520" rx="16" ry="6" fill="#fff" opacity="0.14"/>
<ellipse cx="800" cy="516" rx="18" ry="6" fill="#fff" opacity="0.13"/>
<ellipse cx="880" cy="518" rx="22" ry="6" fill="#fff" opacity="0.14"/>
<ellipse cx="930" cy="522" rx="18" ry="5" fill="#fff" opacity="0.16"/>
<polyline points="866.0,470.0 890.0,468.0 916.0,470.0 940.0,476.0" fill="none" stroke="#fff" stroke-width="8" stroke-linecap="round" stroke-linejoin="round" opacity="0.29"/>
<ellipse cx="1005" cy="515" rx="22" ry="6" fill="#fff" opacity="0.12"/>
<ellipse cx="1120" cy="530" rx="28" ry="8" fill="#fff" opacity="0.09"/>
<ellipse cx="585" cy="574" rx="22" ry="9" fill="#000" opacity="0.06"/>
<ellipse cx="640" cy="590" rx="18" ry="7" fill="#000" opacity="0.05"/>
<ellipse cx="700" cy="606" rx="16" ry="6" fill="#000" opacity="0.05"/>
<ellipse cx="660" cy="620" rx="30" ry="9" fill="#000" opacity="0.05"/>
<ellipse cx="520" cy="600" rx="16" ry="10" fill="#000" opacity="0.04" transform="rotate(-40 520 600)"/>
<ellipse cx="480" cy="644" rx="26" ry="7" fill="#000" opacity="0.04"/>
<ellipse cx="330" cy="585" rx="20" ry="9" fill="#000" opacity="0.05" transform="rotate(35 330 585)"/>
<ellipse cx="395" cy="608" rx="24" ry="8" fill="#000" opacity="0.05" transform="rotate(15 395 608)"/>
<ellipse cx="230" cy="597" rx="30" ry="8" fill="#000" opacity="0.05"/>
<ellipse cx="770" cy="570" rx="28" ry="6" fill="#000" opacity="0.08"/>
<ellipse cx="740" cy="616" rx="28" ry="8" fill="#000" opacity="0.07"/>
<ellipse cx="308" cy="392" rx="11" ry="6" fill="#fff" opacity="0.10"/>
<ellipse cx="384" cy="371" rx="11" ry="4" fill="#fff" opacity="0.10"/>
<ellipse cx="326" cy="357" rx="10" ry="6" fill="#fff" opacity="0.06"/>
</g></g>
<g filter="url(#bs)"><g id="gsi">
<polygon points="981.0,323.0 1003.0,323.0 1004.0,331.0 998.0,336.0 984.0,335.0 980.0,330.0" fill="#fff" opacity="1.00"/>
<ellipse cx="984" cy="353" rx="8.5" ry="8" fill="#fff" opacity="1.00"/>
<ellipse cx="976" cy="379" rx="12" ry="7.5" fill="#fff" opacity="1.00" transform="rotate(-12 976 379)"/>
<ellipse cx="1035" cy="368" rx="13" ry="10" fill="#fff" opacity="1.00"/>
<polygon points="1010.0,318.0 1018.0,318.0 1034.0,333.0 1034.0,338.0 1020.0,338.0 1010.0,328.0" fill="#fff" opacity="0.95"/>
<polyline points="615.0,522.0 627.0,512.0 639.0,502.0" fill="none" stroke="#fff" stroke-width="9" stroke-linecap="round" stroke-linejoin="round" opacity="0.71"/>
<polyline points="708.0,553.0 728.0,547.0 752.0,541.0 774.0,540.0 792.0,541.0" fill="none" stroke="#fff" stroke-width="10" stroke-linecap="round" stroke-linejoin="round" opacity="1.00"/>
<polygon points="910.0,533.0 944.0,532.0 944.0,546.0 912.0,548.0" fill="#fff" opacity="1.00"/>
<polygon points="966.0,545.0 1013.0,545.0 1033.0,550.0 1053.0,558.0 1053.0,565.0 1033.0,562.0 1003.0,558.0 966.0,560.0" fill="#fff" opacity="1.00"/>
<ellipse cx="1170" cy="574" rx="21" ry="8" fill="#fff" opacity="1.00" transform="rotate(4 1170 574)"/>
<polygon points="1194.0,613.0 1207.0,616.0 1207.0,633.0 1197.0,628.0 1188.0,619.0" fill="#fff" opacity="1.00"/>
</g></g>
</g>
<polygon points="1053.0,563.0 1064.5,563.0 1064.5,579.0 1053.0,579.0" fill="#fff"/>
<polygon points="1214.0,596.0 1230.0,596.0 1230.0,614.0 1214.0,614.0" fill="#fff"/>
<path d="M896.0 285.5H1110.3V289.8H896.0ZM896.0 289.4H1110.3V293.7H896.0ZM899.8 293.3H1106.5V297.5H899.8ZM907.3 297.1H1106.5V301.4H907.3ZM914.8 301.0H1106.5V305.3H914.8ZM926.0 304.9H1106.5V309.1H926.0ZM933.6 308.7H1106.5V313.0H933.6ZM1132.4 308.7H1140.3V313.0H1132.4ZM944.8 312.6H1170.3V316.8H944.8ZM952.3 316.4H1001.5V320.6H952.3ZM1008.6 316.4H1174.0V320.6H1008.6ZM967.3 320.2H994.0V324.5H967.3ZM1016.1 320.2H1177.8V324.5H1016.1ZM1019.8 324.1H1185.3V328.3H1019.8ZM1027.3 327.9H1185.3V332.2H1027.3ZM1031.1 331.8H1185.3V336.0H1031.1ZM1034.8 335.6H1185.3V339.8H1034.8ZM1038.6 339.4H1185.3V343.7H1038.6ZM1046.1 343.3H1185.3V347.5H1046.1ZM1049.8 347.1H1181.5V351.3H1049.8ZM1061.1 350.9H1181.5V355.1H1061.1ZM1072.3 354.7H1181.5V358.9H1072.3ZM1083.6 358.5H1181.5V362.8H1083.6ZM1094.9 362.4H1181.5V366.6H1094.9ZM1109.9 366.2H1177.8V370.4H1109.9ZM1113.6 370.0H1177.8V374.2H1113.6ZM1113.6 373.8H1177.8V378.0H1113.6ZM1121.1 377.6H1177.8V381.8H1121.1ZM1124.9 381.4H1177.8V385.6H1124.9ZM1128.6 385.2H1177.8V389.4H1128.6ZM1132.4 389.0H1177.8V393.2H1132.4ZM1136.1 392.8H1181.5V397.0H1136.1ZM1136.1 396.6H1181.5V400.8H1136.1ZM1136.1 400.4H1185.3V404.6H1136.1ZM1136.1 404.2H1189.0V408.4H1136.1ZM1139.9 408.0H1196.5V412.2H1139.9ZM1139.9 411.8H1200.3V415.9H1139.9ZM1154.9 415.5H1204.0V419.7H1154.9ZM1211.1 415.5H1226.6V419.7H1211.1ZM1158.6 419.3H1226.6V423.5H1158.6ZM1166.1 423.1H1226.6V427.3H1166.1ZM1166.1 426.9H1226.6V431.1H1166.1ZM1169.9 430.7H1226.6V434.8H1169.9ZM1173.6 434.4H1226.6V438.6H1173.6ZM1188.6 438.2H1226.6V442.4H1188.6ZM1199.9 442.0H1226.6V446.2H1199.9ZM1207.4 445.8H1226.6V449.9H1207.4ZM1211.1 449.5H1226.6V453.7H1211.1ZM1214.9 554.7H1226.6V558.9H1214.9ZM1214.9 558.5H1226.6V562.7H1214.9ZM1214.9 562.3H1226.6V566.4H1214.9ZM1211.1 566.0H1226.6V570.2H1211.1ZM1211.1 569.8H1226.6V573.9H1211.1ZM1211.1 573.5H1226.6V577.7H1211.1ZM1211.1 577.3H1226.6V581.4H1211.1ZM1211.1 581.0H1226.6V585.2H1211.1ZM1211.1 584.8H1226.6V588.9H1211.1ZM1211.1 588.5H1226.6V592.7H1211.1ZM1211.1 592.3H1226.6V596.4H1211.1ZM1211.1 596.0H1226.6V600.2H1211.1ZM1214.9 599.8H1226.6V603.9H1214.9ZM1218.6 603.5H1226.6V607.7H1218.6ZM1211.1 607.3H1226.6V611.4H1211.1ZM1203.6 611.0H1226.6V615.2H1203.6ZM1203.6 614.8H1226.6V618.9H1203.6ZM1203.6 618.5H1226.6V622.7H1203.6ZM1203.6 622.3H1226.6V626.5H1203.6ZM1203.6 626.1H1226.6V630.2H1203.6ZM1203.6 629.8H1226.6V634.0H1203.6ZM1203.6 633.6H1226.6V637.7H1203.6ZM1203.6 637.3H1226.6V641.5H1203.6ZM1207.4 641.1H1226.6V645.3H1207.4ZM1207.4 644.9H1226.6V649.0H1207.4ZM1207.4 648.6H1226.6V652.8H1207.4ZM1211.1 652.4H1226.6V656.6H1211.1ZM1214.9 656.2H1226.6V660.3H1214.9ZM1218.6 659.9H1226.6V664.1H1218.6Z" fill="#fff"/>
<polygon points="899.0,283.0 900.0,288.0 911.2,296.6 935.0,306.0 956.4,315.2 983.0,321.4 1000.2,313.5 1006.8,313.5 1017.4,316.5 1030.7,326.5 1040.0,335.0 1050.6,343.0 1066.4,349.1 1077.0,353.5 1089.3,358.0 1098.1,360.0 1109.5,360.0 1111.8,356.5 1116.6,361.5 1112.2,363.6 1117.5,370.3 1128.0,379.0 1135.0,385.2 1141.2,390.5 1140.4,403.7 1143.9,409.0 1150.0,412.5 1154.4,408.6 1161.5,415.2 1170.3,423.0 1172.0,430.0 1180.8,434.5 1186.1,433.6 1194.9,437.2 1207.3,442.5 1212.5,444.2 1214.3,450.4 1232.0,445.5 1232.0,420.0 1224.9,421.7 1206.4,427.0 1194.9,422.2 1191.4,416.0 1180.8,409.0 1173.8,398.4 1169.9,389.6 1171.2,382.6 1173.8,366.7 1175.6,349.1 1178.7,342.1 1178.2,332.4 1171.2,327.1 1163.2,321.0 1150.9,318.3 1136.8,317.8 1122.7,321.3 1112.2,319.2 1104.3,322.4 1091.9,316.6 1099.9,310.4 1102.5,299.8 1103.4,283.0" fill="#808080" stroke="#000" stroke-width="1.4" stroke-linejoin="round"/>
<polygon points="1232.0,561.0 1224.2,561.0 1220.5,562.5 1219.0,570.0 1213.7,573.7 1214.5,583.5 1216.0,589.5 1213.7,593.0 1219.7,597.7 1225.0,603.7 1232.0,606.0" fill="#808080" stroke="#000" stroke-width="1.4" stroke-linejoin="round"/>
<polygon points="1232.0,607.0 1225.0,609.7 1216.0,615.0 1209.0,619.5 1206.7,624.0 1207.0,631.5 1209.0,637.5 1214.5,642.7 1210.0,648.0 1216.0,652.5 1222.0,656.0 1225.0,659.0 1232.0,662.0" fill="#808080" stroke="#000" stroke-width="1.4" stroke-linejoin="round"/>
<polygon points="1055.0,558.0 1063.0,568.0 1062.0,572.0 1058.0,575.0 1054.6,573.0 1059.0,569.0 1054.6,564.0" fill="#808080" stroke="#000" stroke-width="1.3" stroke-linejoin="round"/>
<polygon points="1219.6,436.3 1232.0,432.0 1232.0,444.5 1221.3,440.7" fill="#fff" stroke="#000" stroke-width="1.2" stroke-linejoin="round"/>
</g>
<g stroke="#000" stroke-width="1.6" stroke-dasharray="1 3" opacity="0.85">
<line x1="188" y1="332.0" x2="1215" y2="332.0"/>
<line x1="188" y1="408.2" x2="1215" y2="408.2"/>
<line x1="188" y1="483.6" x2="1215" y2="483.6"/>
<line x1="188" y1="558.7" x2="1215" y2="558.7"/>
<line x1="188" y1="633.8" x2="1215" y2="633.8"/>
<line x1="401.1" y1="297.7" x2="401.1" y2="667.0"/>
<line x1="626.2" y1="297.7" x2="626.2" y2="667.0"/>
<line x1="851.2" y1="297.7" x2="851.2" y2="667.0"/>
<line x1="1076.3" y1="297.7" x2="1076.3" y2="667.0"/>
</g>
<g stroke="#000" stroke-width="3.6">
<line x1="176" y1="332.0" x2="186.5" y2="332.0"/>
<line x1="1227" y1="332.0" x2="1216.5" y2="332.0"/>
<line x1="176" y1="408.2" x2="186.5" y2="408.2"/>
<line x1="1227" y1="408.2" x2="1216.5" y2="408.2"/>
<line x1="176" y1="483.6" x2="186.5" y2="483.6"/>
<line x1="1227" y1="483.6" x2="1216.5" y2="483.6"/>
<line x1="176" y1="558.7" x2="186.5" y2="558.7"/>
<line x1="1227" y1="558.7" x2="1216.5" y2="558.7"/>
<line x1="176" y1="633.8" x2="186.5" y2="633.8"/>
<line x1="1227" y1="633.8" x2="1216.5" y2="633.8"/>
<line x1="401.1" y1="285.7" x2="401.1" y2="296.2"/>
<line x1="401.1" y1="679.0" x2="401.1" y2="668.5"/>
<line x1="626.2" y1="285.7" x2="626.2" y2="296.2"/>
<line x1="626.2" y1="679.0" x2="626.2" y2="668.5"/>
<line x1="851.2" y1="285.7" x2="851.2" y2="296.2"/>
<line x1="851.2" y1="679.0" x2="851.2" y2="668.5"/>
<line x1="1076.3" y1="285.7" x2="1076.3" y2="296.2"/>
<line x1="1076.3" y1="679.0" x2="1076.3" y2="668.5"/>
</g>
<rect x="176" y="285.7" width="1051" height="393.3" fill="none" stroke="#000" stroke-width="4" stroke-linejoin="round"/>
<text x="171.6" y="340.7" font-size="16.4" letter-spacing="0.5" text-anchor="end" fill="#000">15<tspan font-size="13" dy="-7.8">o</tspan><tspan dy="7.8">N</tspan></text>
<text x="171.6" y="416.9" font-size="16.4" letter-spacing="0.5" text-anchor="end" fill="#000">10<tspan font-size="13" dy="-7.8">o</tspan><tspan dy="7.8">N</tspan></text>
<text x="171.6" y="492.3" font-size="16.4" letter-spacing="0.5" text-anchor="end" fill="#000">5<tspan font-size="13" dy="-7.8">o</tspan><tspan dy="7.8">N</tspan></text>
<text x="166.3" y="567.4" font-size="16.4" letter-spacing="0.5" text-anchor="end" fill="#000">0<tspan font-size="13" dy="-7.8">o</tspan><tspan dy="7.8"></tspan></text>
<text x="171.6" y="642.5" font-size="16.4" letter-spacing="0.5" text-anchor="end" fill="#000">5<tspan font-size="13" dy="-7.8">o</tspan><tspan dy="7.8">S</tspan></text>
<text x="176.4" y="701.2" font-size="16.4" letter-spacing="0.5" text-anchor="middle" fill="#000">150<tspan font-size="13" dy="-7.8">o</tspan><tspan dy="7.8">W</tspan></text>
<text x="401.5" y="701.2" font-size="16.4" letter-spacing="0.5" text-anchor="middle" fill="#000">135<tspan font-size="13" dy="-7.8">o</tspan><tspan dy="7.8">W</tspan></text>
<text x="626.6" y="701.2" font-size="16.4" letter-spacing="0.5" text-anchor="middle" fill="#000">120<tspan font-size="13" dy="-7.8">o</tspan><tspan dy="7.8">W</tspan></text>
<text x="851.6" y="701.2" font-size="16.4" letter-spacing="0.5" text-anchor="middle" fill="#000">105<tspan font-size="13" dy="-7.8">o</tspan><tspan dy="7.8">W</tspan></text>
<text x="1076.7" y="701.2" font-size="16.4" letter-spacing="0.5" text-anchor="middle" fill="#000">90<tspan font-size="13" dy="-7.8">o</tspan><tspan dy="7.8">W</tspan></text>
<text x="310.6" y="235.2" font-size="31.4" font-weight="bold" letter-spacing="0.04" fill="#000">AVHRR Meridional Sea Surface Temperature Gradient</text>
<text x="702" y="275" font-size="25" font-weight="bold" text-anchor="middle" letter-spacing="0.36" fill="#000">2020-11-08</text>
<rect x="174.5" y="711.3" width="1050" height="19.6" fill="url(#cb)" stroke="#262626" stroke-width="1"/>
<g stroke="#262626" stroke-width="1">
<line x1="349.5" y1="730.8" x2="349.5" y2="720.5"/>
<line x1="524.5" y1="730.8" x2="524.5" y2="720.5"/>
<line x1="699.5" y1="730.8" x2="699.5" y2="720.5"/>
<line x1="874.5" y1="730.8" x2="874.5" y2="720.5"/>
<line x1="1049.5" y1="730.8" x2="1049.5" y2="720.5"/>
</g>
<text x="174.5" y="754.6" font-size="16" text-anchor="middle" fill="#262626">-0.03</text>
<text x="349.5" y="754.6" font-size="16" text-anchor="middle" fill="#262626">-0.02</text>
<text x="524.5" y="754.6" font-size="16" text-anchor="middle" fill="#262626">-0.01</text>
<text x="699.5" y="754.6" font-size="16" text-anchor="middle" fill="#262626">0</text>
<text x="874.5" y="754.6" font-size="16" text-anchor="middle" fill="#262626">0.01</text>
<text x="1049.5" y="754.6" font-size="16" text-anchor="middle" fill="#262626">0.02</text>
<text x="1224.5" y="754.6" font-size="16" text-anchor="middle" fill="#262626">0.03</text>
<text x="700" y="779" font-size="17" text-anchor="middle" fill="#262626">°C/km</text>
</svg></body></html>
